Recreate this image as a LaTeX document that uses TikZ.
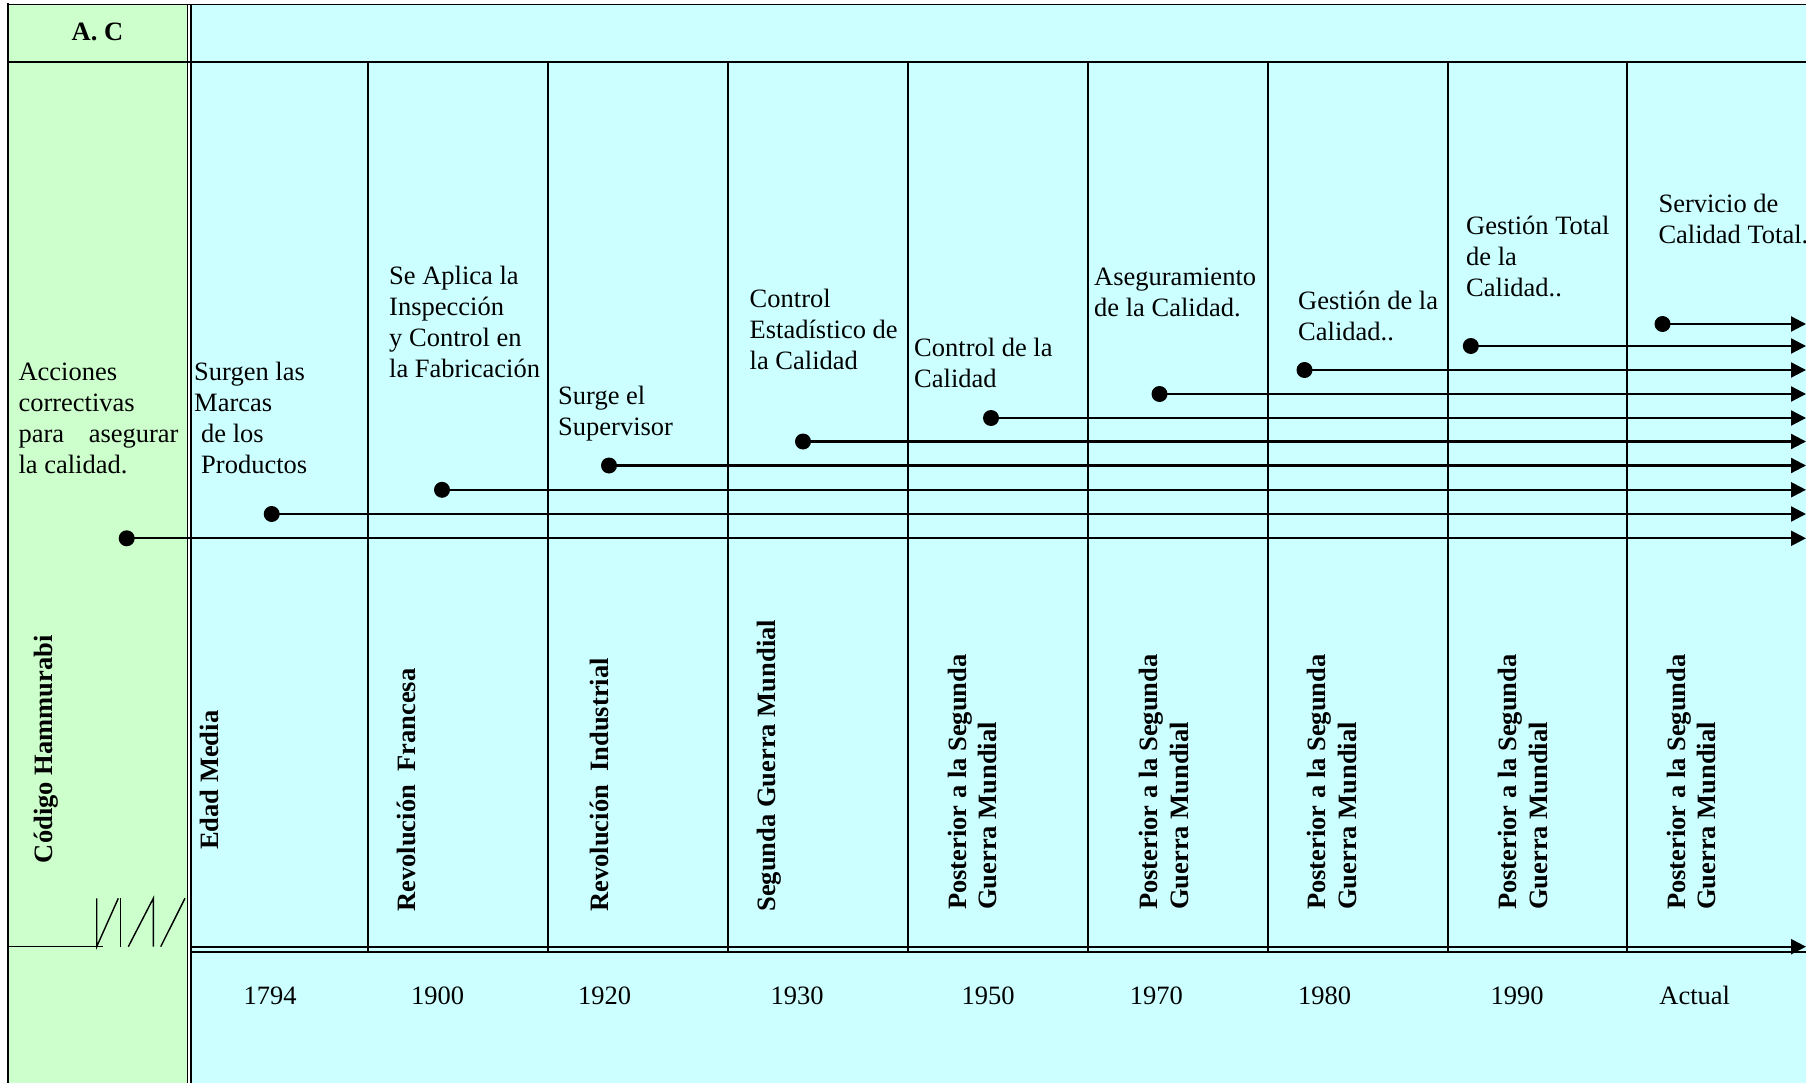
\documentclass[tikz,border=0pt]{standalone}
\usepackage{fontspec}
\setmainfont{Liberation Serif}
\usetikzlibrary{arrows.meta}
\definecolor{cgreen}{HTML}{CCFFCC}
\definecolor{cblue}{HTML}{CCFFFF}
\begin{document}
\begin{tikzpicture}[x=1pt,y=-1pt,
  txt/.style={font=\fontsize{26.5}{31}\selectfont, inner sep=0pt, align=left, anchor=base west},
  vtxt/.style={font=\bfseries\fontsize{26.5}{30.5}\selectfont, inner sep=0pt, align=left, rotate=90, anchor=base west},
  yr/.style={font=\fontsize{26.5}{31}\selectfont, inner sep=0pt, anchor=base},
  hdr/.style={font=\bfseries\fontsize{26.5}{31}\selectfont, inner sep=0pt, anchor=base},
  evdot/.style={circle, fill=black, inner sep=0pt, minimum size=16pt},
  tl/.style={line width=2.2pt, -{Triangle[length=15pt,width=15pt]}},
  rule/.style={line width=2pt},
  thin/.style={line width=1.4pt},
]
\useasboundingbox (0,0) rectangle (1806,1083);
\fill[white] (0,0) rectangle (1806,1083);
\fill[cgreen] (8,4.5) rectangle (188,1083);
\fill[cblue] (190,4.5) rectangle (1806,1083);

% frame
\draw[line width=2.6pt] (8,3.5) -- (8,1083);
\draw[line width=1.8pt] (7,4.5) -- (1806,4.5);
\draw[thin] (187.5,4.5) -- (187.5,1083);
\draw[thin] (191,4.5) -- (191,1083);
\draw[rule] (8,61.7) -- (1806,61.7);
\foreach \x in {368,548,728,908,1088,1268,1448,1627}
  \draw[rule] (\x,61.7) -- (\x,951.7);
\draw[rule] (191,951.7) -- (1806,951.7);

% time axis
\coordinate (ax0) at (191,946.7);
\coordinate (ax1) at (1806,946.7);
\draw[tl] (ax0) -- (ax1);
\draw[thin] (8,946.7) -- (103.3,946.7);
\draw[thin] (96.7,898.3) -- (96.7,946.7) -- (118.3,898.3);
\draw[thin] (120.7,898.3) -- (120.7,946.7);
\draw[thin] (128.3,946.7) -- (153.3,898.3) -- (153.3,946.7);
\draw[thin] (160.7,946.7) -- (185,898.3);

% header
\node[hdr] (hac) at (97.5,40.7) {A. C};

% upper texts (anchored at the baseline of the last line)
\node[txt] (t0) at (18.3,473) {Acciones\\correctivas\\\makebox[160pt][s]{para asegurar}\\la calidad.};
\node[txt] (t1) at (194,473.5) {Surgen las\\Marcas\\\hspace*{7pt}de los\\\hspace*{7pt}Productos};
\node[txt] (t2) at (389,377.5) {Se Aplica la\\Inspección\\y Control en\\la Fabricación};
\node[txt] (t3) at (558,435.5) {Surge el\\Supervisor};
\node[txt] (t4) at (749.5,369) {Control\\Estadístico de\\la Calidad};
\node[txt] (t5) at (914,387) {Control de la\\Calidad};
\node[txt] (t6) at (1094,316) {Aseguramiento\\de la Calidad.};
\node[txt] (t7) at (1298,340.5) {Gestión de la\\Calidad..};
\node[txt] (t8) at (1466,296.5) {Gestión Total\\de la\\Calidad..};
\node[txt] (t9) at (1658.3,243.3) {Servicio de\\Calidad Total.};

% event dots and arrows
\node[evdot] (d0) at (126.7,538.3) {};
\node[evdot] (d1) at (271.7,514.0) {};
\node[evdot] (d2) at (442,489.8) {};
\node[evdot] (d3) at (609,465.5) {};
\node[evdot] (d4) at (803,441.5) {};
\node[evdot] (d5) at (991,418) {};
\node[evdot] (d6) at (1159.5,394) {};
\node[evdot] (d7) at (1304.5,370) {};
\node[evdot] (d8) at (1470.8,346) {};
\node[evdot] (d9) at (1662.5,324) {};
\foreach \i in {0,...,9} {
  \coordinate (e\i) at (d\i -| ax1);
  \draw[tl] (d\i.center) -- (e\i);
}

% rotated period labels
\node[vtxt] (v0) at (52,863.3) {Código Hammurabi};
\node[vtxt] (v1) at (218.3,850) {Edad Media};
\node[vtxt] (v2) at (415,911.7) {Revolución\hspace{0.5em}Francesa};
\node[vtxt] (v3) at (608,911.7) {Revolución\hspace{0.5em}Industrial};
\node[vtxt] (v4) at (775,911.7) {Segunda Guerra Mundial};
\node[vtxt] (v5) at (996.5,910) {Posterior a la Segunda\\Guerra Mundial};
\node[vtxt] (v6) at (1188,910) {Posterior a la Segunda\\Guerra Mundial};
\node[vtxt] (v7) at (1356,910) {Posterior a la Segunda\\Guerra Mundial};
\node[vtxt] (v8) at (1547,910) {Posterior a la Segunda\\Guerra Mundial};
\node[vtxt] (v9) at (1715.5,910) {Posterior a la Segunda\\Guerra Mundial};

% years
\node[yr] (y0) at (270,1004) {1794};
\node[yr] (y1) at (437.7,1004) {1900};
\node[yr] (y2) at (604.7,1004) {1920};
\node[yr] (y3) at (797,1004) {1930};
\node[yr] (y4) at (988,1004) {1950};
\node[yr] (y5) at (1156.4,1004) {1970};
\node[yr] (y6) at (1324.5,1004) {1980};
\node[yr] (y7) at (1517,1004) {1990};
\node[yr] (y8) at (1694.7,1004) {Actual};
\end{tikzpicture}
\end{document}
